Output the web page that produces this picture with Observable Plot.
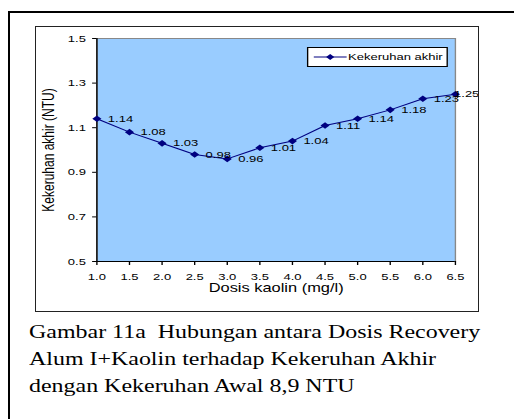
<!DOCTYPE html>
<html lang="id">
<head>
<meta charset="UTF-8">
<title>Gambar 11a</title>
<script src="https://cdn.jsdelivr.net/npm/d3@7"></script>
<script src="https://cdn.jsdelivr.net/npm/@observablehq/plot@0.6"></script>
<style>
  body { margin: 0; background: #fff; overflow: hidden; width: 514px; height: 419px; position: relative; }
  #bingkai {
    position: absolute; left: 8px; top: 11px; width: 530px; height: 430px;
    border-left: 2px solid #000; border-top: 2px solid #000;
  }
  #grafik {
    position: absolute; left: 35px; top: 26px; width: 442px; height: 284px;
    border: 1px solid #222; background: #fff; overflow: hidden;
  }
  /* gambar asli melebar ke samping, jadi seluruh grafik ditarik mendatar */
  #lebar {
    position: absolute; left: 0; top: 0; width: 323px; height: 284px;
    transform: scaleX(1.3684); transform-origin: 0 0;
  }
  #lebar svg { position: absolute; left: 0; top: 0; }
  #legenda {
    position: absolute; left: 198px; top: 20px; width: 101px; height: 18px;
    border: 1px solid #000; background: #fff;
    font: 9.5px Arial, "Liberation Sans", sans-serif; line-height: 18px;
  }
  #legenda svg { position: absolute; left: 3px; top: 4px; }
  #legenda span { position: absolute; left: 29px; top: 0; }
  #keterangan {
    position: absolute; left: 29px; top: 319px; white-space: nowrap;
    font: 18px "Times New Roman", "Liberation Serif", serif; line-height: 27px;
    transform: scaleX(1.33); transform-origin: 0 0;
  }
</style>
</head>
<body>
<div id="bingkai"></div>
<div id="grafik">
  <div id="lebar">
    <div id="legenda"><svg width="26" height="10"><line x1="1" y1="5" x2="25" y2="5" stroke="#000080"/><path d="M13,2L16,5L13,8L10,5Z" fill="#000080"/></svg><span>Kekeruhan akhir</span></div>
  </div>
</div>
<div id="keterangan">Gambar 11a&nbsp; Hubungan antara Dosis Recovery<br>Alum I+Kaolin terhadap Kekeruhan Akhir<br>dengan Kekeruhan Awal 8,9 NTU</div>
<script>
// dosis kaolin (mg/l)
const dosis = [1.0, 1.5, 2.0, 2.5, 3.0, 3.5, 4.0, 4.5, 5.0, 5.5, 6.0, 6.5];
// kekeruhan akhir (NTU)
const kekeruhan = [1.14, 1.08, 1.03, 0.98, 0.96, 1.01, 1.04, 1.11, 1.14, 1.18, 1.23, 1.25];
const yTicks = [0.5, 0.7, 0.9, 1.1, 1.3, 1.5];

const data = dosis.map((d, i) => ({dosis: d, nilai: kekeruhan[i]}));
const terakhir = data.slice(-1);
const lainnya = data.slice(0, -1);

const navy = "#000080";
const f1 = d3.format(".1f");

const plot = Plot.plot({
  width: 323,
  height: 284,
  marginLeft: 44,
  marginTop: 11,
  marginRight: 17,
  marginBottom: 50,
  style: {fontFamily: "Arial, 'Liberation Sans', sans-serif", fontSize: "9.5px", color: "#000", background: "transparent"},
  x: {domain: [1.0, 6.5]},
  y: {domain: [0.5, 1.5]},
  marks: [
    Plot.frame({fill: "#99ccff", stroke: "#888"}),
    Plot.ruleX([dosis[0]], {stroke: "#000"}),
    Plot.ruleY([yTicks[0]], {stroke: "#000"}),
    Plot.axisX({ticks: dosis, tickFormat: f1, tickSize: 4, tickPadding: 8, fontSize: 9.5, label: null}),
    Plot.axisX({ticks: [], label: "Dosis kaolin (mg/l)", labelAnchor: "center", labelArrow: "none", labelOffset: 30, fontSize: 12}),
    Plot.axisY({ticks: yTicks, tickFormat: f1, tickSize: 3, tickPadding: 5, fontSize: 9.5, label: null}),
    Plot.axisY({ticks: [], label: "Kekeruhan akhir (NTU)", labelAnchor: "center", labelArrow: "none", labelOffset: 40, fontSize: 12}),
    Plot.line(data, {x: "dosis", y: "nilai", stroke: navy, strokeWidth: 1}),
    Plot.dot(data, {x: "dosis", y: "nilai", symbol: "diamond2", r: 3, fill: navy, stroke: "none"}),
    Plot.text(lainnya, {x: "dosis", y: "nilai", text: d => d.nilai.toFixed(2), textAnchor: "start", dx: 8, fontSize: 9.5, fill: "#000"}),
    Plot.text(terakhir, {x: "dosis", y: "nilai", text: d => d.nilai.toFixed(2), textAnchor: "start", dx: -1, fontSize: 9.5, fill: "#000"})
  ]
});

document.querySelector("#lebar").prepend(plot);
</script>
</body>
</html>
